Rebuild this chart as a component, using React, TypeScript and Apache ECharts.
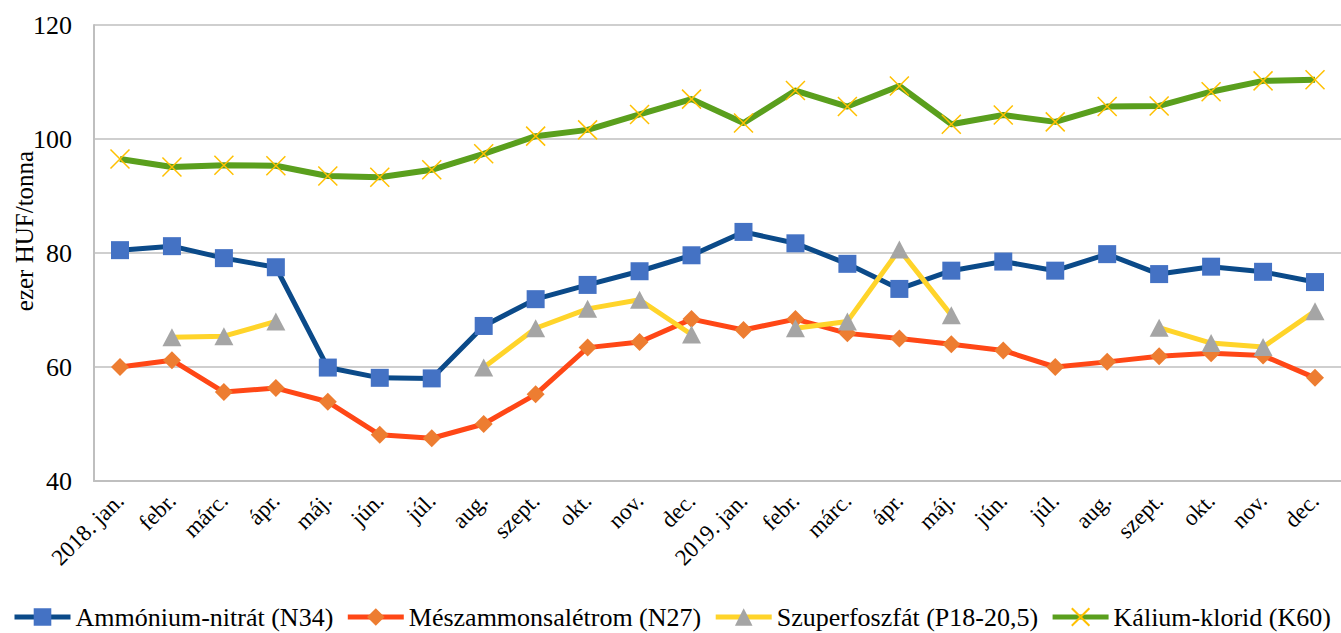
import React, { useEffect, useRef } from "react";
import * as echarts from "echarts";

const categories = [
  "2018. jan.", "febr.", "márc.", "ápr.", "máj.", "jún.", "júl.", "aug.", "szept.", "okt.", "nov.", "dec.",
  "2019. jan.", "febr.", "márc.", "ápr.", "máj.", "jún.", "júl.", "aug.", "szept.", "okt.", "nov.", "dec.",
];

const ammoniumNitrat = [
  80.5, 81.2, 79.1, 77.5, 59.9, 58.1, 58.0, 67.2, 71.9, 74.4, 76.8, 79.6,
  83.7, 81.7, 78.1, 73.7, 76.9, 78.5, 76.9, 79.8, 76.3, 77.6, 76.7, 74.9,
];

const meszammonsaletrom = [
  60.0, 61.2, 55.6, 56.3, 53.9, 48.1, 47.5, 50.0, 55.2, 63.4, 64.4, 68.4,
  66.5, 68.4, 65.9, 65.0, 64.0, 62.9, 60.0, 60.9, 61.9, 62.4, 62.0, 58.1,
];

const szuperfoszfat = [
  null, 65.2, 65.4, 68.0, null, null, null, 59.9, 66.8, 70.2, 71.8, 65.7,
  null, 66.8, 68.0, 80.6, 69.1, null, null, null, 66.9, 64.2, 63.5, 69.8,
];

const kaliumKlorid = [
  96.5, 95.1, 95.4, 95.3, 93.5, 93.3, 94.6, 97.4, 100.5, 101.6, 104.3, 107.0,
  102.8, 108.5, 105.7, 109.3, 102.6, 104.2, 103.0, 105.7, 105.8, 108.3, 110.2, 110.4,
];

const seriesNames = [
  "Ammónium-nitrát (N34)",
  "Mészammonsalétrom (N27)",
  "Szuperfoszfát (P18-20,5)",
  "Kálium-klorid (K60)",
];

const yAxisTitle = "ezer HUF/tonna";

const FONT = "Liberation Serif, Times New Roman, serif";

export default function App() {
  const ref = useRef<HTMLDivElement>(null);

  useEffect(() => {
    if (!ref.current) return;
    const chart = echarts.init(ref.current, undefined, { renderer: "svg" });
    chart.setOption({
      animation: false,
      backgroundColor: "#ffffff",
      textStyle: { fontFamily: FONT },
      grid: { left: 94, top: 25, width: 1250, height: 456, containLabel: false },
      graphic: [
        {
          type: "text",
          x: 24,
          y: 231,
          rotation: Math.PI / 2,
          style: {
            text: yAxisTitle,
            fontFamily: FONT,
            fontSize: 25,
            fill: "#000",
            align: "center",
            verticalAlign: "middle",
          },
        },
      ],
      legend: {
        left: 12,
        top: 604,
        width: 1600,
        padding: 0,
        itemWidth: 56,
        itemHeight: 22,
        itemGap: 12,
        lineStyle: { width: 5 },
        textStyle: { fontFamily: FONT, fontSize: 26, color: "#000" },
        data: seriesNames,
      },
      xAxis: {
        type: "category",
        data: categories,
        boundaryGap: true,
        axisLine: { show: true, lineStyle: { color: "#bfbfbf", width: 2 } },
        axisTick: { show: false },
        axisLabel: {
          interval: 0,
          rotate: 45,
          margin: 16,
          fontFamily: FONT,
          fontSize: 23,
          color: "#000",
        },
      },
      yAxis: {
        type: "value",
        min: 40,
        max: 120,
        interval: 20,
        axisLine: { show: true, lineStyle: { color: "#bfbfbf", width: 2 } },
        axisTick: { show: false },
        axisLabel: { margin: 22, fontFamily: FONT, fontSize: 26, color: "#000" },
        splitLine: { show: true, lineStyle: { color: "#bfbfbf", width: 1.5 } },
      },
      series: [
        {
          name: seriesNames[0],
          type: "line",
          data: ammoniumNitrat,
          showAllSymbol: true,
          symbol: "rect",
          symbolSize: 18,
          lineStyle: { color: "#0b4a89", width: 5, join: "round" },
          itemStyle: { color: "#4472c4" },
        },
        {
          name: seriesNames[1],
          type: "line",
          data: meszammonsaletrom,
          showAllSymbol: true,
          symbol: "diamond",
          symbolSize: 18,
          lineStyle: { color: "#ff4716", width: 5, join: "round" },
          itemStyle: { color: "#ed7d31" },
        },
        {
          name: seriesNames[2],
          type: "line",
          data: szuperfoszfat,
          connectNulls: false,
          showAllSymbol: true,
          symbol: "triangle",
          symbolSize: [19, 18],
          lineStyle: { color: "#ffd42a", width: 5, join: "round" },
          itemStyle: { color: "#a5a5a5" },
        },
        {
          name: seriesNames[3],
          type: "line",
          data: kaliumKlorid,
          showAllSymbol: true,
          symbol: "path://M0,0L20,20M20,0L0,20",
          symbolSize: 19,
          lineStyle: { color: "#5a9f1d", width: 6, join: "round" },
          itemStyle: { color: "#ffc000", borderColor: "#ffc000", borderWidth: 1.5 },
        },
      ],
    });
    return () => chart.dispose();
  }, []);

  return (
    <div
      ref={ref}
      style={{ position: "fixed", left: 0, top: 0, width: 1341, height: 633, background: "#fff" }}
    />
  );
}
